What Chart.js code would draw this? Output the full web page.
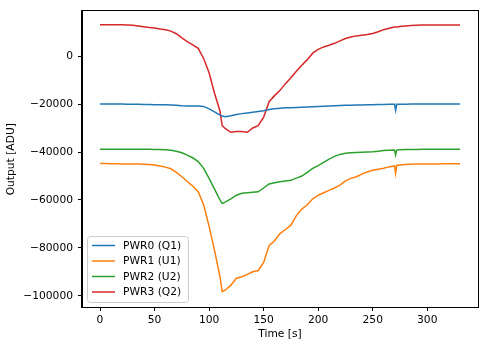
<!DOCTYPE html>
<html>
<head>
<meta charset="utf-8">
<script src="https://cdn.jsdelivr.net/npm/chart.js@4"></script>
<style>
  html, body { margin: 0; padding: 0; background: #fff; }
  #wrap { width: 489px; height: 347px; }
</style>
</head>
<body>
<div id="wrap"><canvas id="grafico" width="489" height="347"></canvas></div>
<script>
// Tempo [s]
const tempos = [0, 5, 10, 15, 20, 25, 30, 35, 40, 45, 50, 55, 60, 65, 70, 75, 80, 85, 90, 95, 100, 105, 110, 112,
  115, 120, 125, 130, 135, 140, 145, 150, 155, 160, 165, 170, 175, 180, 185, 190, 195, 200, 205, 210, 215, 220,
  225, 230, 235, 240, 245, 250, 255, 260, 265, 270, 271, 272, 275, 280, 285, 290, 295, 300, 305, 310, 315, 320, 325, 330];

const nomes = ["PWR0 (Q1)", "PWR1 (U1)", "PWR2 (U2)", "PWR3 (Q2)"];

const pwr0 = [-20000, -20000, -20000, -20000, -20000, -20100, -20100, -20100, -20200, -20200, -20300, -20300, -20300, -20400,
  -20500, -20700, -20800, -20800, -20800, -21000, -22000, -23300, -24600, -25000, -25300, -24900, -24400, -24000, -23700,
  -23400, -23100, -22800, -22300, -22000, -21800, -21600, -21500, -21400, -21300, -21200, -21100, -21000, -20900, -20800,
  -20700, -20600, -20500, -20500, -20400, -20400, -20300, -20300, -20200, -20200, -20100, -20100, -22600, -20100, -20100,
  -20100, -20000, -20000, -20000, -20000, -20000, -20000, -20000, -20000, -20000, -20000];

const pwr1 = [-44800, -44800, -44900, -44900, -45000, -45000, -45000, -45000, -45100, -45200, -45400, -45800, -46300, -47000,
  -48500, -50300, -52300, -54200, -56500, -62000, -71000, -81000, -92000, -98200, -97500, -95500, -92600, -92000, -91000,
  -89900, -89400, -86000, -79000, -77000, -74000, -72300, -70500, -66500, -63800, -62000, -59500, -58000, -57000, -56000,
  -55000, -53800, -52000, -51000, -50300, -49200, -48300, -47600, -47200, -46800, -46200, -45800, -48900, -45600, -45400,
  -45200, -45100, -45000, -45000, -45000, -45000, -45000, -44900, -44900, -44900, -44900];

const pwr2 = [-38900, -38900, -38900, -38900, -38900, -38900, -38900, -38900, -38900, -38900, -39000, -39000, -39100, -39300,
  -39700, -40300, -41300, -42400, -44000, -46800, -51000, -55500, -60000, -61500, -60800, -59500, -58000, -57200, -57000,
  -56800, -56600, -55000, -53300, -52800, -52400, -52100, -51800, -50900, -50000, -48500, -46800, -45700, -44300, -43000,
  -41800, -41000, -40500, -40300, -40200, -40100, -40000, -39900, -39700, -39400, -39300, -39200, -41200, -39200, -39100,
  -39000, -39000, -39000, -38900, -38900, -38900, -38900, -38900, -38900, -38900, -38900];

const pwr3 = [13000, 13000, 13000, 13000, 13000, 12900, 12800, 12500, 12200, 11900, 11700, 11300, 11000, 10400,
  9300, 7600, 6000, 4700, 3200, -1000, -7000, -15500, -23000, -29000, -30300, -31800, -31500, -31500, -31800,
  -30000, -29000, -25500, -19000, -16500, -14300, -11500, -9000, -6300, -3800, -1500, 1200, 2800, 3800, 4500,
  5300, 6300, 7300, 7900, 8400, 8700, 9000, 9400, 10100, 11000, 11600, 12100, 12100, 12100, 12300,
  12500, 12700, 12800, 12900, 12900, 12900, 12900, 12900, 12900, 12900, 12900];

const ticksX = [0, 50, 100, 150, 200, 250, 300];
const ticksY = [-100000, -80000, -60000, -40000, -20000, 0];

const cores = ["#1f77b4", "#ff7f0e", "#2ca02c", "#d62728"];
const fonte = { family: "'DejaVu Sans'", size: 10.7 };

function pontos(valores) {
  return tempos.map((t, i) => ({ x: t, y: valores[i] }));
}

function rotulo(v) {
  return v < 0 ? "\u2212" + Math.abs(v) : String(v);
}

// Moldura completa (como no matplotlib)
const moldura = {
  id: "moldura",
  afterDatasetsDraw(chart) {
    const { ctx, chartArea: a } = chart;
    ctx.save();
    ctx.strokeStyle = "#000";
    ctx.lineWidth = 1;
    ctx.strokeRect(Math.round(a.left) - 0.5, Math.round(a.top) - 0.5,
      Math.round(a.right - a.left) + 1, Math.round(a.bottom - a.top) + 1);
    ctx.restore();
  }
};

// Legenda dentro do gráfico, canto inferior esquerdo
const legenda = {
  id: "legenda",
  afterDraw(chart) {
    const { ctx, chartArea: a } = chart;
    const largura = 101, altura = 66;
    const x0 = a.left + 5, y0 = a.bottom - 5 - altura;
    ctx.save();
    ctx.beginPath();
    ctx.roundRect(x0 + 0.5, y0 + 0.5, largura, altura, 3);
    ctx.fillStyle = "rgba(255,255,255,0.8)";
    ctx.fill();
    ctx.strokeStyle = "#cccccc";
    ctx.lineWidth = 1;
    ctx.stroke();
    ctx.font = fonte.size + "px " + fonte.family;
    ctx.textBaseline = "middle";
    chart.data.datasets.forEach((ds, i) => {
      const y = y0 + 9.5 + i * 15.5;
      ctx.strokeStyle = ds.borderColor;
      ctx.lineWidth = 1.5;
      ctx.beginPath();
      ctx.moveTo(x0 + 5, y);
      ctx.lineTo(x0 + 28, y);
      ctx.stroke();
      ctx.fillStyle = "#000";
      ctx.fillText(ds.label, x0 + 36, y + 0.5);
    });
    ctx.restore();
  }
};

new Chart(document.getElementById("grafico"), {
  type: "line",
  data: {
    datasets: [pwr0, pwr1, pwr2, pwr3].map((serie, i) => ({
      label: nomes[i],
      data: pontos(serie),
      borderColor: cores[i],
      backgroundColor: cores[i],
      borderWidth: 1.5,
      pointRadius: 0,
      tension: 0,
      fill: false
    }))
  },
  options: {
    responsive: false,
    animation: false,
    devicePixelRatio: 1,
    layout: { padding: { left: 0, top: 11, right: 11, bottom: 0 } },
    plugins: {
      legend: { display: false },
      tooltip: { enabled: false }
    },
    scales: {
      x: {
        type: "linear",
        min: -16.5,
        max: 346.5,
        afterBuildTicks: s => { s.ticks = ticksX.map(v => ({ value: v })); },
        afterFit: s => { s.height = 40; },
        grid: { drawOnChartArea: false, drawTicks: true, tickLength: 4, color: "#000", lineWidth: 1 },
        border: { display: true, color: "#000" },
        ticks: { color: "#000", font: fonte, padding: 3, maxRotation: 0, autoSkip: false, callback: v => rotulo(v) },
        title: { display: true, text: "Time [s]", color: "#000", font: fonte, padding: { top: 2, bottom: 6 } }
      },
      y: {
        type: "linear",
        min: -104600,
        max: 18600,
        afterBuildTicks: s => { s.ticks = ticksY.map(v => ({ value: v })); },
        afterFit: s => { s.width = 82; },
        grid: { drawOnChartArea: false, drawTicks: true, tickLength: 4, color: "#000", lineWidth: 1 },
        border: { display: true, color: "#000" },
        ticks: { color: "#000", font: fonte, padding: 5, autoSkip: false, callback: v => rotulo(v) },
        title: { display: true, text: "Output [ADU]", color: "#000", font: fonte, padding: { top: 5, bottom: 2 } }
      }
    }
  },
  plugins: [moldura, legenda]
});
</script>
</body>
</html>
